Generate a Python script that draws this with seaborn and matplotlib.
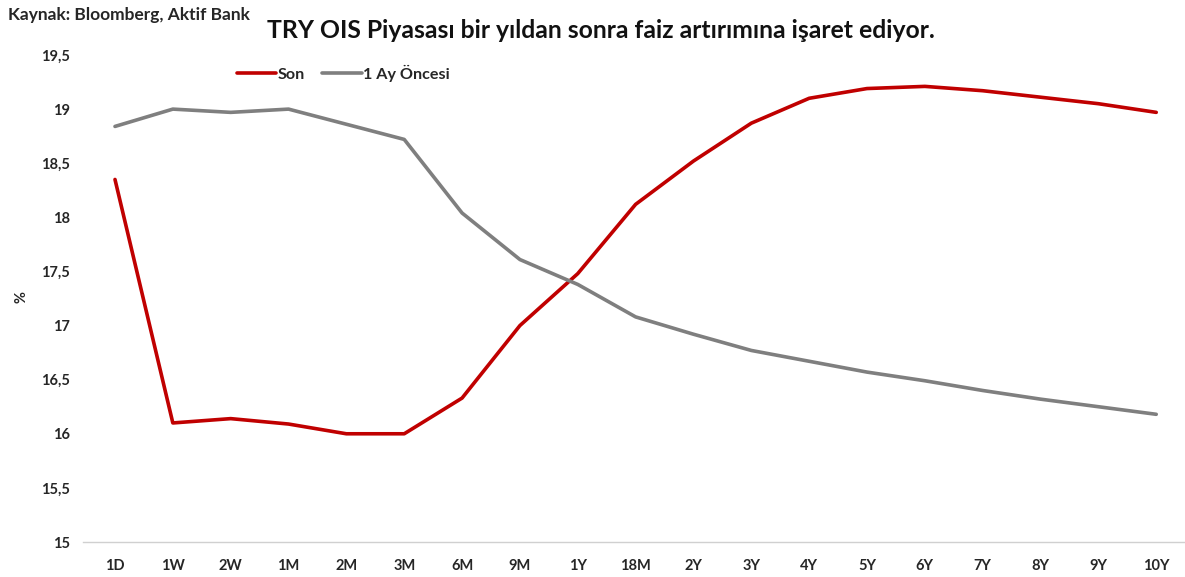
import pandas as pd
import matplotlib.pyplot as plt
import seaborn as sns

# Tenors and yields (%)
tenors = ['1D', '1W', '2W', '1M', '2M', '3M', '6M', '9M', '1Y', '18M',
          '2Y', '3Y', '4Y', '5Y', '6Y', '7Y', '8Y', '9Y', '10Y']
son = [18.35, 16.10, 16.14, 16.09, 16.00, 16.00, 16.33, 17.00, 17.48, 18.12,
       18.52, 18.87, 19.10, 19.19, 19.21, 19.17, 19.11, 19.05, 18.97]
bir_ay_oncesi = [18.84, 19.00, 18.97, 19.00, 18.86, 18.72, 18.04, 17.61, 17.38, 17.08,
                 16.92, 16.77, 16.67, 16.57, 16.49, 16.40, 16.32, 16.25, 16.18]
y_ticks = [15, 15.5, 16, 16.5, 17, 17.5, 18, 18.5, 19, 19.5]

df = pd.DataFrame({'tenor': tenors * 2,
                   'value': son + bir_ay_oncesi,
                   'series': ['Son'] * len(tenors) + ['1 Ay Öncesi'] * len(tenors)})
df['pos'] = df.groupby('series').cumcount()

sns.set_style('white')
plt.rcParams['font.family'] = ['Lato', 'DejaVu Sans']

fig = plt.figure(figsize=(11.85, 5.77), dpi=100)
ax = fig.add_axes([83 / 1185, 1 - 542 / 577, (1184 - 83) / 1185, (542 - 55) / 577])

colors = {'Son': '#C00000', '1 Ay Öncesi': '#7F7F7F'}
sns.lineplot(data=df, x='pos', y='value', hue='series', palette=colors,
             linewidth=2.6, ax=ax, legend=False)

ax.set_xlim(-0.553, 18.48)
ax.set_ylim(15, 19.5)
ax.set_xticks(range(len(tenors)))
ax.set_xticklabels(tenors, fontsize=10.5, fontweight='bold', color='#262626')
ax.set_yticks(y_ticks)
ax.set_yticklabels([f'{t:g}'.replace('.', ',') for t in y_ticks],
                   fontsize=10.5, fontweight='bold', color='#262626')
ax.tick_params(axis='both', length=0)
ax.tick_params(axis='x', pad=12)
ax.tick_params(axis='y', pad=9.5)
ax.set_xlabel('')
ax.set_ylabel('')

for s in ['top', 'right', 'left']:
    ax.spines[s].set_visible(False)
ax.spines['bottom'].set_color('#D0D0D0')
ax.spines['bottom'].set_linewidth(1.0)

fig.text(22 / 1185, 1 - 297 / 577, '%', rotation=90, fontsize=10.5,
         fontweight='bold', ha='center', va='center', color='#262626')

# legend drawn by hand from the series styles
handles = [plt.Line2D([], [], color=colors['Son'], lw=2.6),
           plt.Line2D([], [], color=colors['1 Ay Öncesi'], lw=2.6)]
fig.legend(handles, ['Son', '1 Ay Öncesi'], loc='center left',
           bbox_to_anchor=(237 / 1185, 1 - 73 / 577), ncol=2, frameon=False,
           borderpad=0, borderaxespad=0,
           handlelength=2.45, handletextpad=0.1, columnspacing=1.05,
           prop={'size': 11.6, 'weight': 'bold'})

fig.text(8 / 1185, 1 - 15 / 577, 'Kaynak: Bloomberg, Aktif Bank',
         fontsize=12.5, fontweight='bold', ha='left', va='center', color='#262626')
fig.text(601 / 1185, 1 - 31 / 577, 'TRY OIS Piyasası bir yıldan sonra faiz artırımına işaret ediyor.',
         fontsize=17.8, fontweight='bold', ha='center', va='center', color='#111111')

fig.savefig('out.png', dpi=100)
